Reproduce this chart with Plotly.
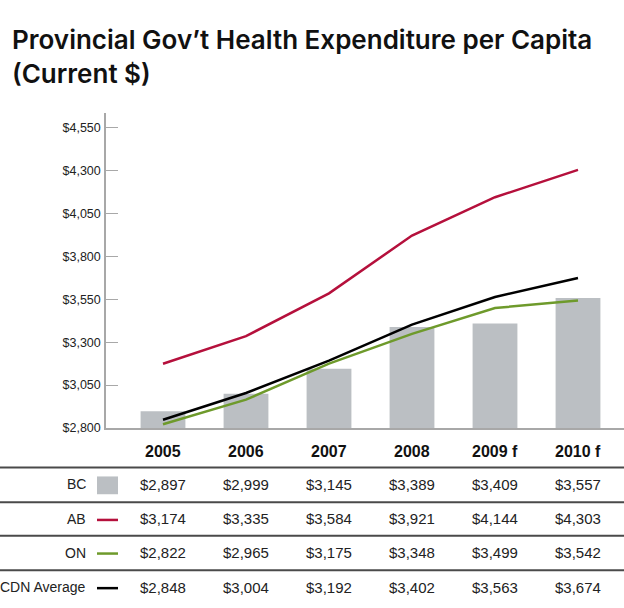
import plotly.graph_objects as go

# Provincial government health expenditure per capita (current dollars)
years = ["2005", "2006", "2007", "2008", "2009 f", "2010 f"]
bc = [2897, 2999, 3145, 3389, 3409, 3557]
ab = [3174, 3335, 3584, 3921, 4144, 4303]
on = [2822, 2965, 3175, 3348, 3499, 3542]
cdn = [2848, 3004, 3192, 3402, 3563, 3674]
y_ticks = [2800, 3050, 3300, 3550, 3800, 4050, 4300, 4550]

W, H = 624, 608
BAR_C = "#bbbfc3"
AB_C = "#b5103c"
ON_C = "#6e9a2b"
CDN_C = "#000000"
AXIS_C = "#a8a8a8"
RULE_C = "#4a4a4a"
TXT = "Liberation Sans, Arial, sans-serif"

def py(px):
    """pixel row -> paper fraction"""
    return 1 - px / H

def px_x(px):
    return px / W

xs = list(range(len(years)))

fig = go.Figure()
fig.add_trace(go.Bar(x=xs, y=bc, marker_color=BAR_C, marker_line_width=0, name="BC"))
fig.add_trace(go.Scatter(x=xs, y=ab, mode="lines", line=dict(color=AB_C, width=2.5), name="AB"))
fig.add_trace(go.Scatter(x=xs, y=cdn, mode="lines", line=dict(color=CDN_C, width=2.5), name="CDN Average"))
fig.add_trace(go.Scatter(x=xs, y=on, mode="lines", line=dict(color=ON_C, width=2.5), name="ON"))

# category spacing ~83px, first category centred at x=163px
x_left = (106 - 163) / 83
x_right = (624 - 163) / 83
y_top = 4550 + (129 - 114) * (1750 / 304)

fig.update_layout(
    width=W, height=H,
    margin=dict(l=0, r=0, t=0, b=0),
    paper_bgcolor="white", plot_bgcolor="white",
    showlegend=False,
    bargap=0.46,
    xaxis=dict(
        domain=[px_x(106), 1],
        range=[x_left, x_right],
        showgrid=False, zeroline=False,
        showline=True, linecolor=AXIS_C, linewidth=1.5,
        showticklabels=False, ticks="",
        fixedrange=True,
    ),
    yaxis=dict(
        domain=[py(433), py(114)],
        range=[2800, y_top],
        tickvals=y_ticks,
        ticktext=[f"${v:,}" for v in y_ticks],
        ticks="inside", ticklen=12, tickcolor=AXIS_C, tickwidth=1,
        showgrid=False, zeroline=False,
        showline=True, linecolor=AXIS_C, linewidth=1.5,
        tickfont=dict(family=TXT, size=12.5, color="#222"),
        ticklabelstandoff=1,
        fixedrange=True,
    ),
    font=dict(family=TXT, color="#222"),
)

# Title
fig.add_annotation(
    text="Provincial Gov\u2019t Health Expenditure per Capita<br>(Current $)",
    xref="paper", yref="paper", x=px_x(10), y=py(22),
    xanchor="left", yanchor="top", align="left", showarrow=False,
    font=dict(family="Inter, Open Sans, sans-serif", size=26, color="#111", weight=600),
)

# Column headers
for i, yr in enumerate(years):
    fig.add_annotation(
        text=f"<b>{yr}</b>", x=i, y=py(457), xref="x", yref="paper",
        xanchor="center", yanchor="middle",
        showarrow=False, font=dict(family=TXT, size=16, color="#111"),
    )

# Table rows
rows = [("BC", bc, "box", BAR_C), ("AB", ab, "line", AB_C),
        ("ON", on, "line", ON_C), ("CDN Average", cdn, "line", CDN_C)]
row_y = [490, 525, 559, 594]
for (label, vals, kind, col), ry in zip(rows, row_y):
    fig.add_annotation(
        text=label, x=px_x(88), y=py(ry), xref="paper", yref="paper",
        xanchor="right", yanchor="middle", showarrow=False,
        font=dict(family=TXT, size=14, color="#222"),
    )
    if kind == "box":
        fig.add_shape(type="rect", xref="paper", yref="paper",
                      x0=px_x(97), x1=px_x(118), y0=py(500), y1=py(482),
                      fillcolor=col, line_width=0)
    else:
        fig.add_shape(type="line", xref="paper", yref="paper",
                      x0=px_x(97), x1=px_x(118), y0=py(ry + 1), y1=py(ry + 1),
                      line=dict(color=col, width=2.5))
    for i, v in enumerate(vals):
        fig.add_annotation(
            text=f"${v:,}", x=i, y=py(ry), xref="x", yref="paper",
            xanchor="center", yanchor="middle",
            showarrow=False, font=dict(family=TXT, size=15, color="#222"),
        )

# Horizontal rules of the table
for ry in [473, 508, 542, 577]:
    fig.add_shape(type="line", xref="paper", yref="paper",
                  x0=0, x1=1, y0=py(ry), y1=py(ry),
                  line=dict(color=RULE_C, width=2))

fig.write_html("out.html")
